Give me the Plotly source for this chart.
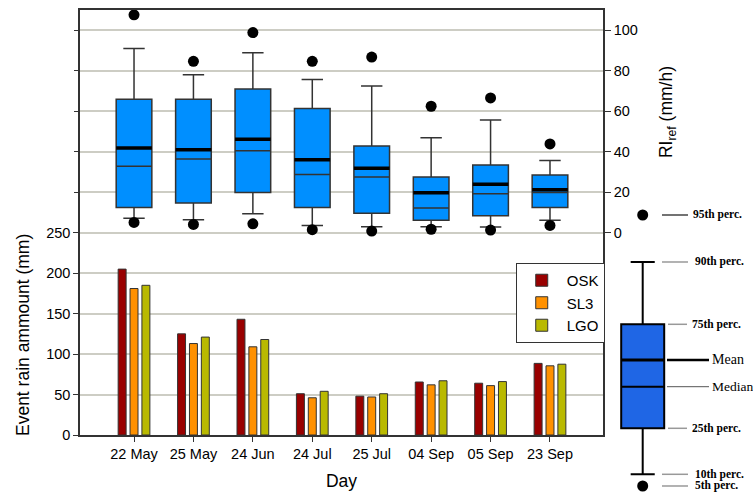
import plotly.graph_objects as go

# ---------------- data ----------------
days = ["22 May", "25 May", "24 Jun", "24 Jul", "25 Jul", "04 Sep", "05 Sep", "23 Sep"]

rain_osk = [205, 125, 143, 51, 48, 65.5, 64, 88.5]
rain_sl3 = [181, 113, 109, 46, 47, 62, 61, 85.5]
rain_lgo = [185, 121, 118, 54, 51, 67, 66, 87.5]

ri_p5 = [5.1, 4.1, 4.4, 1.5, 0.8, 1.7, 1.3, 3.6]
ri_p10 = [7.1, 6.4, 9.4, 3.5, 3.0, 3.0, 2.8, 6.1]
ri_q1 = [12.5, 14.7, 19.9, 12.5, 9.6, 6.1, 8.4, 12.5]
ri_median = [32.8, 36.4, 40.5, 28.8, 27.5, 12.2, 19.2, 19.9]
ri_mean = [41.9, 41.0, 46.2, 36.0, 31.8, 19.7, 24.0, 21.2]
ri_q3 = [66.0, 66.0, 71.0, 61.4, 42.9, 27.5, 33.5, 28.5]
ri_p90 = [91.1, 78.1, 89.0, 75.7, 72.5, 46.9, 55.7, 35.7]
ri_p95 = [107.7, 84.7, 98.9, 84.7, 86.8, 62.5, 66.6, 43.9]

left_ticks = [0, 50, 100, 150, 200, 250]
left_extra_ticks = [300, 350, 400, 450, 500]
right_ticks = [0, 20, 40, 60, 80, 100]

# key (explanatory box) - schematic stats in key units
key_labels = ["95th perc.", "90th perc.", "75th perc.", "Mean", "Median", "25th perc.", "10th perc.", "5th perc."]
key_values = [279, 232, 169.7, 134, 107.3, 65.7, 19.7, 8]

# ---------------- styling ----------------
C_OSK = "#990000"
C_SL3 = "#ff9100"
C_LGO = "#b9b900"
BOX_FILL = "rgb(0,143,255)"
KEY_FILL = "#1f66e5"
GRID = "rgb(205,205,196)"
AX = "#333333"
FONT = "Liberation Sans, Arial, sans-serif"
SERIF = "Liberation Serif, Times New Roman, serif"

x_idx = list(range(len(days)))
BOX_W = 0.6
Y_RANGE = [0, 525.2]

fig = go.Figure()

# bars
for name, vals, col in [("OSK", rain_osk, C_OSK), ("SL3", rain_sl3, C_SL3), ("LGO", rain_lgo, C_LGO)]:
    fig.add_trace(go.Bar(x=x_idx, y=vals, name=name, marker=dict(color=col, line=dict(color="#333", width=1)),
                         xaxis="x", yaxis="y"))

# boxes
fig.add_trace(go.Box(x=x_idx, q1=ri_q1, median=ri_median, q3=ri_q3, lowerfence=ri_p10, upperfence=ri_p90,
                     width=BOX_W, whiskerwidth=0.6, fillcolor=BOX_FILL, line=dict(color=AX, width=1.5),
                     boxpoints=False, showlegend=False, xaxis="x", yaxis="y2", hoverinfo="skip"))

# mean lines
mx, my = [], []
for i, m in zip(x_idx, ri_mean):
    mx += [i - BOX_W / 2, i + BOX_W / 2, None]
    my += [m, m, None]
fig.add_trace(go.Scatter(x=mx, y=my, mode="lines", line=dict(color="black", width=3.5),
                         showlegend=False, xaxis="x", yaxis="y2", hoverinfo="skip"))

# 5th / 95th percentile dots
fig.add_trace(go.Scatter(x=x_idx + x_idx, y=ri_p5 + ri_p95, mode="markers",
                         marker=dict(color="black", size=11), showlegend=False, cliponaxis=False,
                         xaxis="x", yaxis="y2", hoverinfo="skip"))

# ---------------- key ----------------
kv = dict(zip(key_labels, key_values))
KC = 27.7  # key box centre (key x units)
KW = 43
fig.add_trace(go.Box(x=[KC], q1=[kv["25th perc."]], median=[kv["Median"]], q3=[kv["75th perc."]],
                     lowerfence=[kv["10th perc."]], upperfence=[kv["90th perc."]],
                     width=KW, whiskerwidth=0.56, fillcolor=KEY_FILL, line=dict(color="black", width=2),
                     boxpoints=False, showlegend=False, xaxis="x2", yaxis="y3", hoverinfo="skip"))
fig.add_trace(go.Scatter(x=[KC - KW / 2, KC + KW / 2], y=[kv["Mean"]] * 2, mode="lines",
                         line=dict(color="black", width=3), showlegend=False, xaxis="x2", yaxis="y3",
                         hoverinfo="skip"))
fig.add_trace(go.Scatter(x=[KC, KC], y=[kv["5th perc."], kv["95th perc."]], mode="markers",
                         marker=dict(color="black", size=11), showlegend=False, cliponaxis=False,
                         xaxis="x2", yaxis="y3", hoverinfo="skip"))

shapes = []
annotations = []
for lab, v in zip(key_labels, key_values):
    if lab == "Mean":
        x0, x1, col, w, tx, fs, bold = 52, 94, "black", 2.5, 95.5, 14, False
    elif lab == "Median":
        x0, x1, col, w, tx, fs, bold = 52, 94, "#555", 1, 95.5, 13.5, False
    elif lab in ("75th perc.", "25th perc."):
        x0, x1, col, w, tx, fs, bold = 53, 72, "#999", 1.5, 76, 11.5, True
    else:
        x0, x1, col, w, tx, fs, bold = 47, 73, "#999", 1.5, 79, 11.5, True
    if lab == "95th perc.":
        col = "#444"
        tx = 76.5
    shapes.append(dict(type="line", xref="x2", yref="y3", x0=x0, x1=x1, y0=v, y1=v,
                       line=dict(color=col, width=w)))
    annotations.append(dict(xref="x2", yref="y3", x=tx, y=v, text=f"<b>{lab}</b>" if bold else lab,
                            showarrow=False, xanchor="left", yanchor="middle", borderpad=0,
                            font=dict(family=SERIF, size=fs, color="black")))

# axis titles
annotations.append(dict(xref="paper", yref="paper", x=-0.0853, y=0.3285, text="Event rain ammount (mm)",
                        textangle=-90, showarrow=False, xanchor="center", yanchor="middle",
                        font=dict(family=FONT, size=17.5, color="black")))
annotations.append(dict(xref="paper", yref="paper", x=0.8787, y=0.789, text="RI<sub>ref</sub> (mm/h)",
                        textangle=-90, showarrow=False, xanchor="center", yanchor="middle",
                        font=dict(family=FONT, size=17.5, color="black")))

fig.update_layout(
    width=753, height=507,
    margin=dict(l=80, r=5, t=10, b=13),
    paper_bgcolor="white", plot_bgcolor="white",
    font=dict(family=FONT, size=14.5, color="black"),
    barmode="group", bargap=0.4, bargroupgap=0.33,
    xaxis=dict(domain=[0, 0.78293], range=[-0.909, 7.892], tickvals=x_idx, ticktext=days,
               showline=True, mirror=True, linecolor=AX, linewidth=1.5, ticks="outside", ticklen=5,
               tickcolor=AX, showgrid=False, zeroline=False, anchor="y",
               title=dict(text="Day", font=dict(size=17.5), standoff=14)),
    yaxis=dict(domain=[0.1219, 1], range=Y_RANGE, tickvals=left_ticks,
               showline=True, linecolor=AX, linewidth=1.5, ticks="outside", ticklen=5, tickcolor=AX,
               showgrid=True, gridcolor=GRID, gridwidth=1.5, zeroline=False, anchor="x"),
    yaxis4=dict(overlaying="y", side="left", range=Y_RANGE, tickvals=left_extra_ticks,
                showticklabels=False, ticks="outside", ticklen=5, tickcolor=AX,
                showgrid=True, gridcolor=GRID, gridwidth=1.5, zeroline=False, showline=False, anchor="x"),
    yaxis2=dict(overlaying="y", side="right", range=[-100, 110.08], tickvals=right_ticks,
                showline=True, linecolor=AX, linewidth=1.5, ticks="outside", ticklen=6, tickcolor=AX,
                showgrid=False, zeroline=False, anchor="x"),
    xaxis2=dict(domain=[0.8009, 1.0], range=[0, 133], visible=False, anchor="y3"),
    yaxis3=dict(domain=[0, 0.59711], range=[0, 289], visible=False, anchor="x2"),
    legend=dict(x=0.6523, y=0.4773, xanchor="left", yanchor="top", bgcolor="white",
                bordercolor=AX, borderwidth=1, font=dict(size=15), tracegroupgap=0, itemwidth=40),
    shapes=shapes, annotations=annotations,
)

# yaxis4 needs a trace to be drawn
fig.add_trace(go.Scatter(x=[None], y=[None], xaxis="x", yaxis="y4", showlegend=False, hoverinfo="skip"))

post = "document.body.style.margin='0';document.body.style.overflow='hidden';"
fig.write_html("out.html", config={"displayModeBar": False, "responsive": False}, post_script=post)
